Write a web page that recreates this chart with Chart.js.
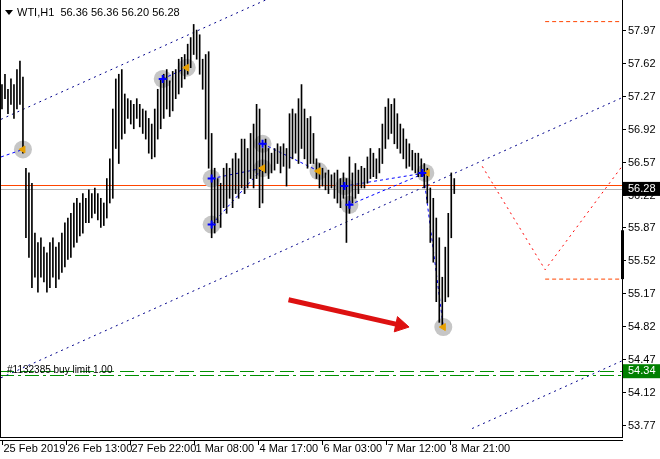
<!DOCTYPE html>
<html><head><meta charset="utf-8">
<script src="https://cdn.jsdelivr.net/npm/chart.js@4"></script>
<style>html,body{margin:0;padding:0;background:#fff}#w{width:660px;height:459px}</style>
</head><body><div id="w"><canvas id="c"></canvas></div>
<script>
const highs=[57.39,57.50,57.34,57.45,57.39,57.55,57.64,57.47,56.50,56.45,56.34,55.81,55.71,55.76,55.66,55.60,55.71,55.76,55.66,55.71,55.81,55.92,55.97,56.02,56.13,56.18,56.13,56.23,56.18,56.27,56.23,56.29,56.23,56.18,56.13,56.39,56.60,57.13,57.45,57.50,57.55,57.29,57.24,57.22,57.18,57.24,57.18,57.13,57.11,57.03,56.97,57.13,57.34,57.45,57.50,57.55,57.43,57.53,57.55,57.66,57.68,57.71,57.82,57.89,58.03,57.97,57.92,57.66,57.71,57.74,56.87,56.50,56.39,56.34,56.50,56.55,56.50,56.60,56.66,56.60,56.81,56.81,56.71,56.87,56.97,57.18,57.13,56.71,56.81,56.71,56.66,56.71,56.76,56.73,56.76,56.71,57.08,57.13,57.08,57.24,57.39,57.13,57.03,57.05,56.87,56.60,56.55,56.50,56.45,56.48,56.43,56.45,56.48,56.39,56.45,56.39,56.62,56.45,56.55,56.48,56.52,56.50,56.62,56.71,56.66,56.60,56.71,56.97,57.15,57.24,57.18,57.24,57.08,56.97,56.92,56.81,56.76,56.69,56.66,56.66,56.60,56.55,56.50,56.29,56.18,55.97,55.76,55.34,55.66,56.02,56.45,56.39];
const lows=[57.13,57.24,57.08,57.18,57.03,57.13,57.18,56.66,55.76,55.55,55.23,55.34,55.18,55.34,55.29,55.18,55.23,55.34,55.23,55.32,55.39,55.45,55.53,55.55,55.66,55.71,55.78,55.81,55.92,55.92,55.97,56.02,55.95,55.87,55.89,55.97,56.13,56.18,56.71,56.55,56.81,56.87,57.03,56.97,56.92,57.03,56.94,56.87,56.81,56.66,56.60,56.62,56.81,56.92,57.03,57.13,57.05,57.11,57.24,57.29,57.36,57.45,57.50,57.57,57.71,57.66,57.50,57.34,56.81,56.50,55.76,55.81,55.92,55.87,56.08,56.02,56.18,56.08,56.23,56.18,56.29,56.23,56.29,56.39,56.29,56.39,56.08,56.13,56.45,56.39,56.45,56.48,56.55,56.45,56.52,56.31,56.50,56.60,56.66,56.55,56.71,56.60,56.50,56.55,56.55,56.39,56.29,56.31,56.27,56.23,56.29,56.18,56.13,56.08,56.18,55.71,56.02,56.13,56.18,56.23,56.29,56.29,56.34,56.39,56.41,56.39,56.45,56.55,56.71,56.81,56.87,56.76,56.71,56.66,56.60,56.50,56.52,56.48,56.45,56.41,56.41,56.29,56.13,55.71,55.50,55.08,54.86,54.81,55.08,55.13,55.76,56.23];
const priceTicks=[57.97,57.62,57.27,56.92,56.57,56.22,55.87,55.52,55.17,54.82,54.47,54.12,53.77];
const timeLabels=["25 Feb 2019","26 Feb 13:00","27 Feb 22:00","1 Mar 08:00","4 Mar 17:00","6 Mar 03:00","7 Mar 12:00","8 Mar 21:00"];
const tickStart=0.5, tickStep=21.33;
const channelUpper=[[0,57.02],[207.3,60.0]];
const channelMid=[[0,54.27],[207.3,57.25]];
const channelLow=[[157.3,53.73],[207.3,54.45]];
const circles=[[7.33,56.70],[54,57.45],[62,57.57],[70.33,56.39],[70.33,55.90],[87.33,56.76],[87.33,56.50],[106,56.47],[114.67,56.31],[116.33,56.11],[141.67,56.45],[147.67,54.81]];
const entries=[[54,57.45],[70.33,56.39],[70.33,55.90],[87.33,56.76],[114.67,56.31],[116.33,56.11],[140.67,56.45]];
const exits=[[7.33,56.70],[62,57.57],[87.33,56.50],[106,56.47],[142.3,56.45],[147.67,54.81]];
const tradeLinks=[[[0,56.62],[7.33,56.70]],[[54,57.45],[62,57.57]],[[70.33,56.39],[87.33,56.50]],[[70.33,55.90],[87.33,56.50]],[[87.33,56.76],[106,56.47]],[[114.67,56.31],[141.67,56.45]],[[116.33,56.11],[141.67,56.45]],[[141,56.45],[147.67,54.81]]];
const zigzag=[[160.67,56.52],[181.67,55.42],[207.33,56.52]];
const targetLow=[[181.67,55.32],[206.7,55.32]];
const targetHigh=[[181.67,58.06],[206.7,58.06]];
const redArrow=[[96,55.10],[133.3,54.83]];
const bidLine=56.32, lastPrice=56.28, buyLimit=54.34, buyLimit2=54.30;
const sideBar=[55.84,55.32];

const FONT='11px "Liberation Sans", Arial, sans-serif';
const pts=a=>a.map(p=>({x:p[0],y:p[1]}));
const L=(data,color,dash,w,order)=>({type:'line',data:pts(data),borderColor:color,borderDash:dash,borderWidth:w||1,pointRadius:0,fill:false,tension:0,order:order});
const ds=[];
ds.push(L(channelUpper,'#00008b',[2,4],1,8));
ds.push(L(channelMid,'#00008b',[2,4],1,8));
ds.push(L(channelLow,'#00008b',[2,4],1,8));
ds.push({type:'line',data:pts(circles),showLine:false,pointRadius:9,pointBackgroundColor:'#c6c6c6',pointBorderWidth:0,order:10});
tradeLinks.forEach(t=>ds.push(L(t,'#0000ff',[3,3],1,6)));
ds.push({type:'bar',data:highs.map((h,i)=>({x:i+0.33,y:[lows[i],h]})),backgroundColor:'#000',barThickness:1,grouped:false,order:5});
ds.push({type:'line',data:pts(entries),showLine:false,pointStyle:'crossRot',pointRadius:4,pointBorderColor:'#0000ff',pointBorderWidth:2,rotation:45,order:2});
ds.push({type:'line',data:pts(exits),showLine:false,pointStyle:'triangle',pointRadius:4,pointBackgroundColor:'#e8a000',pointBorderColor:'#e8a000',rotation:-90,order:2});
ds.push(L(zigzag,'#ff0000',[2,4],1,3));
ds.push(L(targetLow,'#ff4500',[4,3],1,3));
ds.push(L(targetHigh,'#ff4500',[4,3],1,3));
ds.push(L(redArrow,'#dd1111',[],5,1));
ds.push({type:'line',data:pts([redArrow[1]]),showLine:false,pointStyle:'triangle',pointRadius:9,pointBackgroundColor:'#dd1111',pointBorderColor:'#dd1111',rotation:102,order:1});

const overlay={id:'overlay',
 beforeDatasetsDraw(ch){const c=ch.ctx,a=ch.chartArea,y=ch.scales.y;
  c.save();
  const hl=(v,col,dash)=>{c.strokeStyle=col;c.setLineDash(dash);c.lineWidth=1;c.beginPath();c.moveTo(a.left,Math.round(y.getPixelForValue(v))+0.5);c.lineTo(a.right,Math.round(y.getPixelForValue(v))+0.5);c.stroke();};
  hl(lastPrice,'#b4b4b4',[]);hl(bidLine,'#ff4500',[]);
  hl(buyLimit,'#009000',[14,6]);hl(buyLimit2,'#009000',[14,4,3,4]);
  c.restore();},
 afterDraw(ch){const c=ch.ctx,a=ch.chartArea,y=ch.scales.y,x=ch.scales.x;
  c.save();c.setLineDash([]);
  c.strokeStyle='#000';c.lineWidth=1;
  c.beginPath();c.moveTo(a.right+0.5,0);c.lineTo(a.right+0.5,a.bottom+1);c.moveTo(0,a.bottom+0.5);c.lineTo(a.right,a.bottom+0.5);c.moveTo(0,a.bottom+3.5);c.lineTo(a.right+1,a.bottom+3.5);c.moveTo(0.5,0);c.lineTo(0.5,a.bottom);c.stroke();
  c.font=FONT;c.textBaseline='middle';c.fillStyle='#000';
  priceTicks.forEach(v=>{const py=Math.round(y.getPixelForValue(v))+0.5;c.beginPath();c.moveTo(a.right,py);c.lineTo(a.right+4,py);c.stroke();c.fillText(v.toFixed(2),a.right+6,py);});
  c.textBaseline='top';
  timeLabels.forEach((t,i)=>{const px=Math.round(x.getPixelForValue(tickStart+i*tickStep))+0.5;c.beginPath();c.moveTo(px,a.bottom+3);c.lineTo(px,a.bottom+8);c.stroke();c.fillText(t,px+1,a.bottom+6);});
  const box=(v,bg,txt,col)=>{const py=y.getPixelForValue(v);c.fillStyle=bg;c.fillRect(a.right+1,py-7,38,14);c.fillStyle=col;c.textBaseline='middle';c.fillText(txt,a.right+6,py);};
  box(lastPrice,'#000',lastPrice.toFixed(2),'#fff');
  box(buyLimit,'#008000',buyLimit.toFixed(2),'#fff');
  c.fillStyle='#000';const y1=y.getPixelForValue(sideBar[0]),y2=y.getPixelForValue(sideBar[1]);c.fillRect(a.right-1,y1,3,y2-y1);
  c.fillStyle='#000';c.textBaseline='middle';c.font='10px "Liberation Sans", Arial, sans-serif';
  c.fillText('#1132385 buy limit 1.00',7,y.getPixelForValue(buyLimit)-1);
  c.font=FONT;
  c.beginPath();c.moveTo(5,10);c.lineTo(13,10);c.lineTo(9,15);c.closePath();c.fill();
  c.fillText('WTI,H1  56.36 56.36 56.20 56.28',17,13);
  c.restore();}
};

new Chart(document.getElementById('c'),{
 type:'bar',data:{datasets:ds},
 options:{responsive:true,maintainAspectRatio:false,animation:false,
  layout:{autoPadding:false,padding:{left:0,right:38,top:0,bottom:22}},
  plugins:{legend:{display:false},tooltip:{enabled:false}},
  scales:{x:{type:'linear',min:-0.33,max:207.33,display:false,offset:false},
          y:{type:'linear',min:53.64,max:58.29,display:false}}},
 plugins:[overlay]});
</script></body></html>
